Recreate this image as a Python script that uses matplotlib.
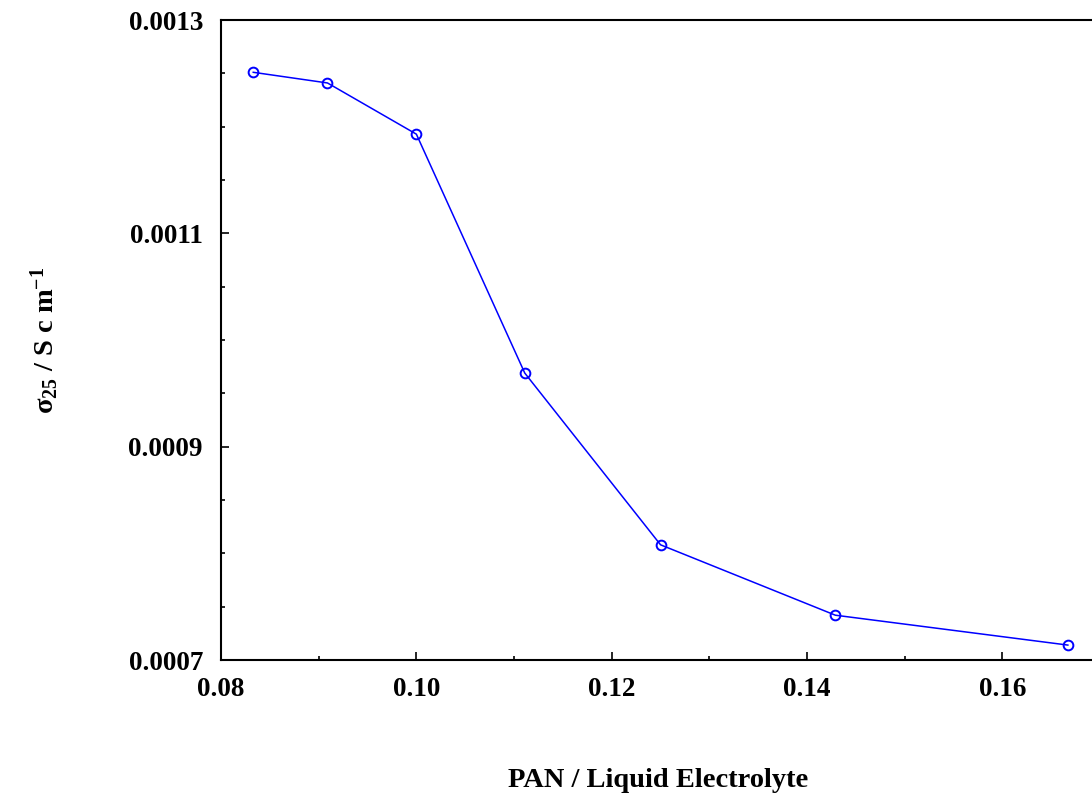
import matplotlib
matplotlib.use('Agg')
import matplotlib.pyplot as plt
from matplotlib.ticker import MultipleLocator

# 字体：粗体衬线
plt.rcParams['font.family'] = ['Liberation Serif', 'DejaVu Serif']
plt.rcParams['font.weight'] = 'bold'
plt.rcParams['mathtext.fontset'] = 'custom'
plt.rcParams['mathtext.rm'] = 'Liberation Serif:bold'
plt.rcParams['mathtext.it'] = 'Liberation Serif:bold'
plt.rcParams['mathtext.bf'] = 'Liberation Serif:bold'

# 数据
pan_ratio = [0.0833, 0.0909, 0.1000, 0.1111, 0.1250, 0.1429, 0.1667]
sigma_25 = [0.001251, 0.001241, 0.001193, 0.000969, 0.000808, 0.000742, 0.000714]

x_ticks = [0.08, 0.10, 0.12, 0.14, 0.16]
x_tick_labels = ['0.08', '0.10', '0.12', '0.14', '0.16']
y_ticks = [0.0007, 0.0009, 0.0011, 0.0013]
y_tick_labels = ['0.0007', '0.0009', '0.0011', '0.0013']


def draw():
    fig = plt.figure(figsize=(10.92, 7.95), dpi=100)
    ax = fig.add_axes([0.2024, 0.1698, 0.805, 0.805])

    ax.plot(pan_ratio, sigma_25, color='#0000ff', lw=1.1, marker='o',
            ms=7, mfc='none', mec='#0000ff', mew=1.4)

    ax.set_xlim(0.08, 0.17)
    ax.set_ylim(0.0007, 0.0013)

    ax.set_xticks(x_ticks)
    ax.set_xticklabels(x_tick_labels)
    ax.set_yticks(y_ticks)
    ax.set_yticklabels(y_tick_labels)
    ax.xaxis.set_minor_locator(MultipleLocator(0.01))
    ax.yaxis.set_minor_locator(MultipleLocator(0.00005))

    ax.tick_params(which='both', direction='in', width=1.2, labelsize=19.5)
    ax.tick_params(axis='x', pad=12)
    ax.tick_params(axis='y', pad=13)
    ax.tick_params(which='major', length=6)
    ax.tick_params(which='minor', length=3)
    for s in ax.spines.values():
        s.set_linewidth(1.5)

    ax.set_xlabel('PAN / Liquid Electrolyte', fontsize=20.5, fontweight='bold')
    ax.xaxis.set_label_coords(0.497, -0.168)

    ax.set_ylabel(r'$\sigma_{25}$ / S c m$^{-1}$', fontsize=20.5, fontweight='bold')
    ax.yaxis.set_label_coords(-0.200, 0.5)
    ax.yaxis.label.set_va('center')

    fig.savefig('out.png', dpi=100)


if __name__ == '__main__':
    draw()
